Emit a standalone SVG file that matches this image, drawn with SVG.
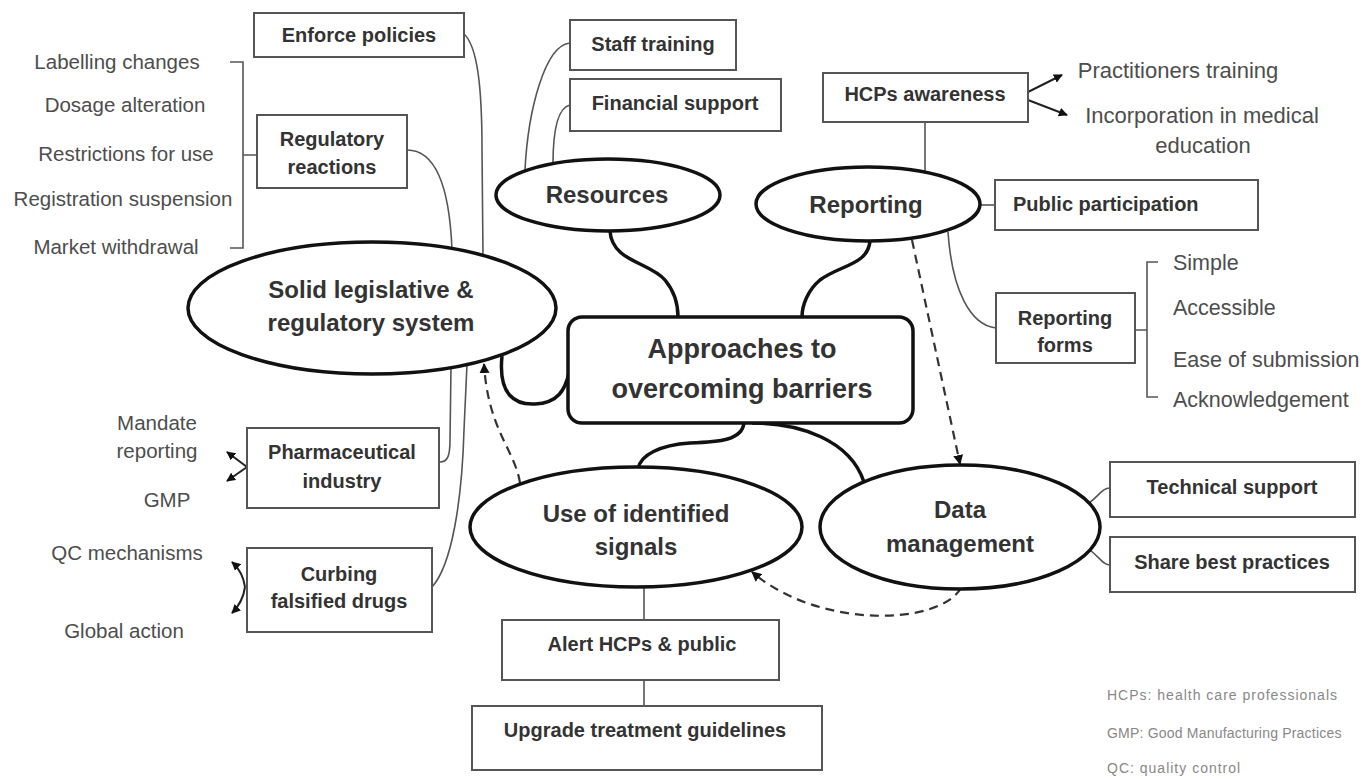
<svg xmlns="http://www.w3.org/2000/svg" width="1365" height="779" viewBox="0 0 1365 779">
<defs>
<style>
.box{fill:#fff;stroke:#555;stroke-width:2}
.ell{fill:#fff;stroke:#111;stroke-width:3.5}
.thin{fill:none;stroke:#555;stroke-width:1.6}
.arw{fill:none;stroke:#222;stroke-width:2}
.thick{fill:none;stroke:#111;stroke-width:3.5}
.dash{fill:none;stroke:#333;stroke-width:2.2;stroke-dasharray:9 6}
text{font-family:"Liberation Sans",Arial,sans-serif}
.bt{font-weight:bold;font-size:20px;fill:#333;text-anchor:middle}
.et{font-weight:bold;font-size:24px;fill:#333;text-anchor:middle}
.ct{font-weight:bold;font-size:27px;fill:#333;text-anchor:middle}
.st{font-size:20.5px;fill:#4d4d4d;text-anchor:middle}
.sr{font-size:22px;fill:#4d4d4d;text-anchor:middle}
.sl{font-size:21.5px;fill:#4d4d4d}
.lg{font-size:14px;fill:#888;letter-spacing:1px}
</style>
<marker id="ah" viewBox="0 0 10 10" refX="9" refY="5" markerWidth="10" markerHeight="10" markerUnits="userSpaceOnUse" orient="auto"><path d="M0,0 L10,5 L0,10 z" fill="#111"/></marker>
<marker id="ahs" viewBox="0 0 10 10" refX="9" refY="5" markerWidth="9" markerHeight="9" markerUnits="userSpaceOnUse" orient="auto"><path d="M0,0 L10,5 L0,10 z" fill="#111"/></marker>
</defs>
<rect width="1365" height="779" fill="#fff"/>
<g id="connectors">
<path class="thin" d="M463,33 C478,45 482,90 482,150 L483,256"/>
<path class="thin" d="M407,150 C440,150 450,200 452,250"/>
<path class="thin" d="M440,462 C448,462 450,455 450,440 L451,367"/>
<path class="thin" d="M432,587 C452,565 462,500 464,430 L467,364"/>
<path class="thin" d="M230,62 H243 V248 H230 M243,155 H257"/>
<path class="thin" d="M570,43 C545,45 528,110 525,170"/>
<path class="thin" d="M570,105 C556,108 553,135 553,164"/>
<path class="thin" d="M925,122 V172"/>
<path class="thin" d="M980,205 H995"/>
<path class="thin" d="M948,232 C952,290 970,325 996,328"/>
<path class="thin" d="M1158,262 H1147 V397 H1158 M1135,330 H1147"/>
<path class="thin" d="M1089,503 C1100,495 1102,488 1110,488"/>
<path class="thin" d="M1090,550 C1102,560 1104,565 1110,565"/>
<path class="thin" d="M644,587 V620 M644,680 V706"/>
<path class="arw" d="M1028,92 L1062,75" marker-end="url(#ahs)"/>
<path class="arw" d="M1028,100 L1067,115" marker-end="url(#ahs)"/>
<path class="arw" d="M247,467 L227,452" marker-end="url(#ahs)"/>
<path class="arw" d="M247,467 L227,481" marker-end="url(#ahs)"/>
<path class="arw" d="M245,587 Q243,572 232,562" marker-end="url(#ahs)"/>
<path class="arw" d="M245,587 Q243,602 232,613" marker-end="url(#ahs)"/>
<path class="thick" d="M610,231 C612,262 650,262 665,280 C675,292 678,305 678,317"/>
<path class="thick" d="M870,241 C868,265 840,265 820,280 C808,290 802,305 802,317"/>
<path class="thick" d="M502,356 C498,395 515,405 535,404 C558,403 565,390 569,373"/>
<path class="thick" d="M744,423 C742,440 720,442 690,443 C660,445 640,455 638,469"/>
<path class="thick" d="M752,423 C800,423 850,440 864,482"/>
<path class="dash" d="M912,240 L960,464" marker-end="url(#ah)"/>
<path class="dash" d="M520,483 C515,450 488,430 484,364" marker-end="url(#ah)"/>
<path class="dash" d="M961,588 C940,625 820,630 752,572" marker-end="url(#ah)"/>
</g>
<g id="enforce"><rect class="box" x="254" y="13" width="210" height="44"/><text class="bt" x="359" y="42">Enforce policies</text></g>
<g id="regulatory"><rect class="box" x="257" y="115" width="150" height="73"/><text class="bt" x="332" y="146">Regulatory</text><text class="bt" x="332" y="174">reactions</text></g>
<g id="staff"><rect class="box" x="570" y="20" width="166" height="50"/><text class="bt" x="653" y="51">Staff training</text></g>
<g id="financial"><rect class="box" x="570" y="79" width="211" height="52"/><text class="bt" x="675" y="110">Financial support</text></g>
<g id="hcps"><rect class="box" x="823" y="73" width="205" height="49"/><text class="bt" x="925" y="101">HCPs awareness</text></g>
<g id="public"><rect class="box" x="995" y="180" width="263" height="50"/><text class="bt" x="1013" y="211" style="text-anchor:start">Public participation</text></g>
<g id="repforms"><rect class="box" x="996" y="293" width="139" height="70"/><text class="bt" x="1065" y="325">Reporting</text><text class="bt" x="1065" y="352">forms</text></g>
<g id="technical"><rect class="box" x="1110" y="462" width="245" height="55"/><text class="bt" x="1232" y="494">Technical support</text></g>
<g id="share"><rect class="box" x="1110" y="537" width="245" height="55"/><text class="bt" x="1232" y="569">Share best practices</text></g>
<g id="pharma"><rect class="box" x="247" y="428" width="192" height="80"/><text class="bt" x="342" y="459">Pharmaceutical</text><text class="bt" x="342" y="488">industry</text></g>
<g id="curbing"><rect class="box" x="247" y="548" width="185" height="84"/><text class="bt" x="339" y="581">Curbing</text><text class="bt" x="339" y="608">falsified drugs</text></g>
<g id="alert"><rect class="box" x="502" y="620" width="277" height="60"/><text class="bt" x="642" y="651">Alert HCPs &amp; public</text></g>
<g id="upgrade"><rect class="box" x="472" y="706" width="350" height="64"/><text class="bt" x="645" y="737">Upgrade treatment guidelines</text></g>
<g id="solid"><ellipse class="ell" cx="372" cy="308" rx="184" ry="66"/><text class="et" x="371" y="298">Solid legislative &amp;</text><text class="et" x="371" y="331">regulatory system</text></g>
<g id="resources"><ellipse class="ell" cx="608" cy="195" rx="112" ry="36"/><text class="et" x="607" y="203">Resources</text></g>
<g id="reporting"><ellipse class="ell" cx="868" cy="204" rx="112" ry="37"/><text class="et" x="866" y="213">Reporting</text></g>
<g id="use"><ellipse class="ell" cx="636" cy="527" rx="166" ry="60"/><text class="et" x="636" y="522">Use of identified</text><text class="et" x="636" y="555">signals</text></g>
<g id="data"><ellipse class="ell" cx="960" cy="527" rx="140" ry="62"/><text class="et" x="960" y="518">Data</text><text class="et" x="960" y="552">management</text></g>
<g id="central"><rect x="568" y="317" width="345" height="106" rx="14" fill="#fff" stroke="#111" stroke-width="3.5"/><text class="ct" x="742" y="358">Approaches to</text><text class="ct" x="742" y="398">overcoming barriers</text></g>
<g id="side-texts">
<text class="st" x="117" y="69">Labelling changes</text>
<text class="st" x="125" y="112">Dosage alteration</text>
<text class="st" x="126" y="161">Restrictions for use</text>
<text class="st" x="123" y="206">Registration suspension</text>
<text class="st" x="116" y="254">Market withdrawal</text>
<text class="st" x="157" y="430">Mandate</text>
<text class="st" x="157" y="458">reporting</text>
<text class="st" x="167" y="507">GMP</text>
<text class="st" x="127" y="560">QC mechanisms</text>
<text class="st" x="124" y="638">Global action</text>
<text class="sr" x="1178" y="78">Practitioners training</text>
<text class="sr" x="1202" y="123">Incorporation in medical</text>
<text class="sr" x="1203" y="153">education</text>
<text class="sl" x="1173" y="270">Simple</text>
<text class="sl" x="1173" y="315">Accessible</text>
<text class="sl" x="1173" y="367">Ease of submission</text>
<text class="sl" x="1173" y="407">Acknowledgement</text>
</g>
<g id="legend">
<text class="lg" x="1107" y="700">HCPs: health care professionals</text>
<text class="lg" x="1107" y="738" style="letter-spacing:0.2px">GMP: Good Manufacturing Practices</text>
<text class="lg" x="1107" y="773">QC: quality control</text>
</g>
</svg>
